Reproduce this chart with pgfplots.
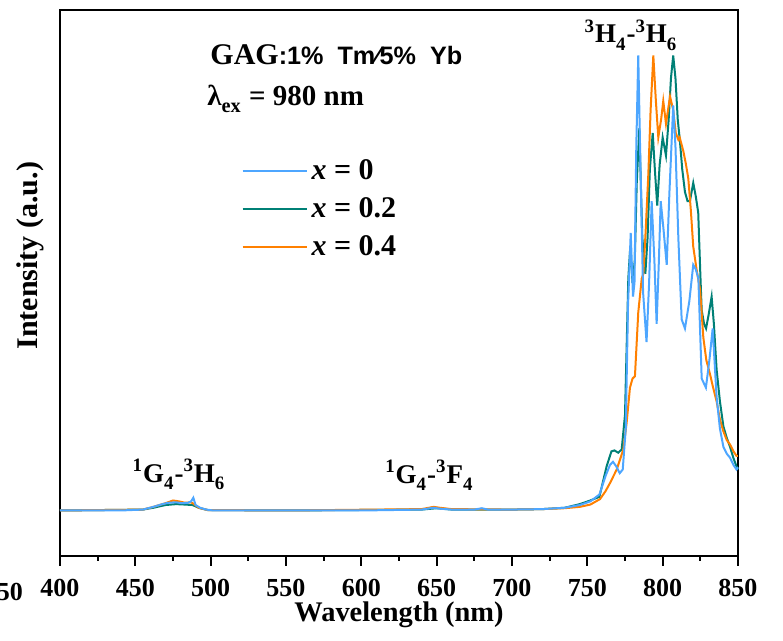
\documentclass[border=0pt]{standalone}
\usepackage{pgfplots}
\pgfplotsset{compat=1.18}
\usepackage{fontspec}
\setmainfont{Liberation Serif}
\newfontfamily\arial{Liberation Sans}
\definecolor{cblue}{RGB}{77,166,255}
\definecolor{cgreen}{RGB}{0,128,118}
\definecolor{corange}{RGB}{255,128,0}
\newcommand\lsub[1]{\textsubscript{\raisebox{-0.35ex}{#1}}}

\pgfplotstableread{
x y
400 0.000
420 0.000
440 0.000
455 0.002
462 0.008
468 0.014
472 0.017
477 0.018
481 0.016
485 0.017
487 0.020
488.5 0.028
490 0.012
493 0.006
497 0.002
502 0.000
550 0.000
600 0.000
640 0.002
648 0.006
652 0.004
660 0.002
675 0.002
680 0.005
684 0.002
700 0.002
720 0.003
735 0.006
745 0.012
752 0.020
758 0.035
762 0.075
765 0.100
767 0.107
769 0.098
771.5 0.082
773.5 0.090
775.5 0.180
777 0.45
778.8 0.61
780.3 0.47
781.3 0.50
782.5 0.80
783.8 1.00
785 0.80
787 0.48
789.3 0.37
791 0.50
792.7 0.68
794.5 0.55
796 0.41
797.5 0.55
798.7 0.68
800.5 0.62
802.7 0.54
804.5 0.70
807 0.89
808.5 0.80
810.4 0.60
812.6 0.42
814.8 0.40
817.7 0.46
820.3 0.54
822 0.53
823.7 0.51
825.9 0.29
828.7 0.27
831 0.33
833.2 0.40
835.8 0.25
838 0.18
840.3 0.14
842.5 0.125
844.7 0.116
847 0.10
849 0.09
850 0.095
}\blue

\pgfplotstableread{
x y
400 0.000
455 0.002
462 0.006
470 0.012
477 0.014
483 0.013
488 0.012
492 0.006
498 0.001
550 0.000
640 0.002
650 0.005
660 0.002
700 0.002
720 0.003
735 0.006
745 0.014
752 0.022
758 0.030
762.8 0.097
766 0.13
768 0.132
770.5 0.127
772.8 0.134
775 0.21
777.2 0.51
778.5 0.58
780 0.50
781.5 0.55
782.8 0.72
784.5 0.84
786.5 0.60
788.5 0.52
790 0.60
791.5 0.75
793.4 0.83
795 0.74
796.4 0.67
798 0.76
800 0.82
802.2 0.78
804 0.86
805.5 0.95
807 1.00
808.5 0.95
810 0.86
811.5 0.81
813 0.75
814.8 0.70
816.5 0.68
818.1 0.68
820.3 0.72
822 0.69
823.6 0.655
825 0.52
825.9 0.44
827.5 0.41
828.8 0.40
830.5 0.43
832.5 0.47
834 0.41
835.8 0.31
838 0.24
840.3 0.185
842.5 0.16
844.7 0.14
847 0.115
849 0.097
850 0.09
}\green

\pgfplotstableread{
x y
400 0.000
455 0.002
462 0.008
470 0.016
475 0.022
479 0.020
483 0.017
487 0.018
489 0.014
492 0.006
498 0.001
550 0.000
640 0.003
648 0.008
652 0.006
660 0.003
700 0.002
720 0.003
735 0.005
745 0.008
752 0.013
758.4 0.025
762 0.042
765 0.06
769.5 0.09
773.9 0.134
776 0.19
778.3 0.27
780 0.29
781.6 0.295
783.8 0.435
786.1 0.51
787.2 0.52
788.8 0.62
790.5 0.74
792 0.88
793.8 1.00
795.5 0.90
797.1 0.82
799 0.86
800.4 0.90
802.2 0.85
804.9 0.91
807 0.88
808.7 0.83
810.4 0.815
811.3 0.82
813.7 0.79
815.5 0.76
817 0.73
818.7 0.66
820.3 0.58
822.5 0.53
824.8 0.486
827 0.38
829 0.33
831.4 0.30
833.5 0.27
835.8 0.24
838 0.20
840.3 0.174
842.5 0.155
844.7 0.145
847 0.13
849 0.12
850 0.12
}\orange

\begin{document}
\begin{tikzpicture}
\useasboundingbox (-30pt,-42.5pt) rectangle (361.5pt,278pt);
\begin{axis}[
  scale only axis, width=339pt, height=273pt,
  xmin=400, xmax=850, ymin=-0.1, ymax=1.1,
  axis line style={line width=0.9pt},
  xtick={400,450,...,850}, minor x tick num=1,
  ytick=\empty,
  tick align=outside, xtick pos=bottom,
  major tick length=5pt, minor tick length=2.5pt,
  every tick/.style={line width=0.9pt, black},
  /pgf/number format/assume math mode=true,
  /pgf/number format/1000 sep={},
  ticklabel style={font=\fontsize{13}{15}\selectfont\bfseries},
  xticklabel style={yshift=-3pt},
  xlabel={Wavelength (nm)},
  ylabel={Intensity (a.u.)},
  label style={font=\fontsize{14.2}{16}\selectfont\bfseries},
  xlabel style={at={(axis description cs:0.5,-0.107)}, anchor=center},
  ylabel style={at={(axis description cs:-0.044,0.55)}, anchor=center, font=\fontsize{15}{17}\selectfont\bfseries},
  clip=false,
  legend style={at={(axis cs:516.3,0.79)}, anchor=north west, draw=none, fill=none,
     font=\fontsize{15}{18}\selectfont\bfseries, row sep=3.6pt,
     /tikz/every even column/.append style={column sep=0pt}},
  legend cell align=left,
  legend image code/.code={\draw[#1] (0pt,0pt) -- (32pt,0pt);},
]
\addlegendimage{cblue, line width=1pt}
\addlegendentry{\textit{x} = 0}
\addlegendimage{cgreen, line width=1pt}
\addlegendentry{\textit{x} = 0.2}
\addlegendimage{corange, line width=1pt}
\addlegendentry{\textit{x} = 0.4}

\addplot[cgreen, line width=1pt, forget plot] table {\green};
\addplot[corange, line width=1pt, forget plot] table {\orange};
\addplot[cblue, line width=1pt, forget plot] table {\blue};

\node[anchor=west, inner sep=0pt, font=\fontsize{15}{18}\selectfont\bfseries] at (axis cs:499.6,1.002)
  {GAG{\arial\bfseries\fontsize{12.6}{15}\selectfont:1\%\ \ Tm\char"2044 5\%\ \ Yb}};
\node[anchor=west, inner sep=0pt, font=\fontsize{14.5}{18}\selectfont\bfseries] at (axis cs:497.6,0.905)
  {λ\lsub{ex} = 980 nm};
\node[font=\fontsize{13.5}{16}\selectfont\bfseries] at (axis cs:779,1.045)
  {\textsuperscript{3}H\lsub{4}-\textsuperscript{3}H\lsub{6}};
\node[font=\fontsize{13.5}{16}\selectfont\bfseries] at (axis cs:479,0.079)
  {\textsuperscript{1}G\lsub{4}-\textsuperscript{3}H\lsub{6}};
\node[font=\fontsize{13.5}{16}\selectfont\bfseries] at (axis cs:645.2,0.077)
  {\textsuperscript{1}G\lsub{4}-\textsuperscript{3}F\lsub{4}};
\end{axis}
\node[anchor=east, font=\fontsize{13}{15}\selectfont\bfseries] at (-15pt,-18pt) {350};
\end{tikzpicture}
\end{document}
